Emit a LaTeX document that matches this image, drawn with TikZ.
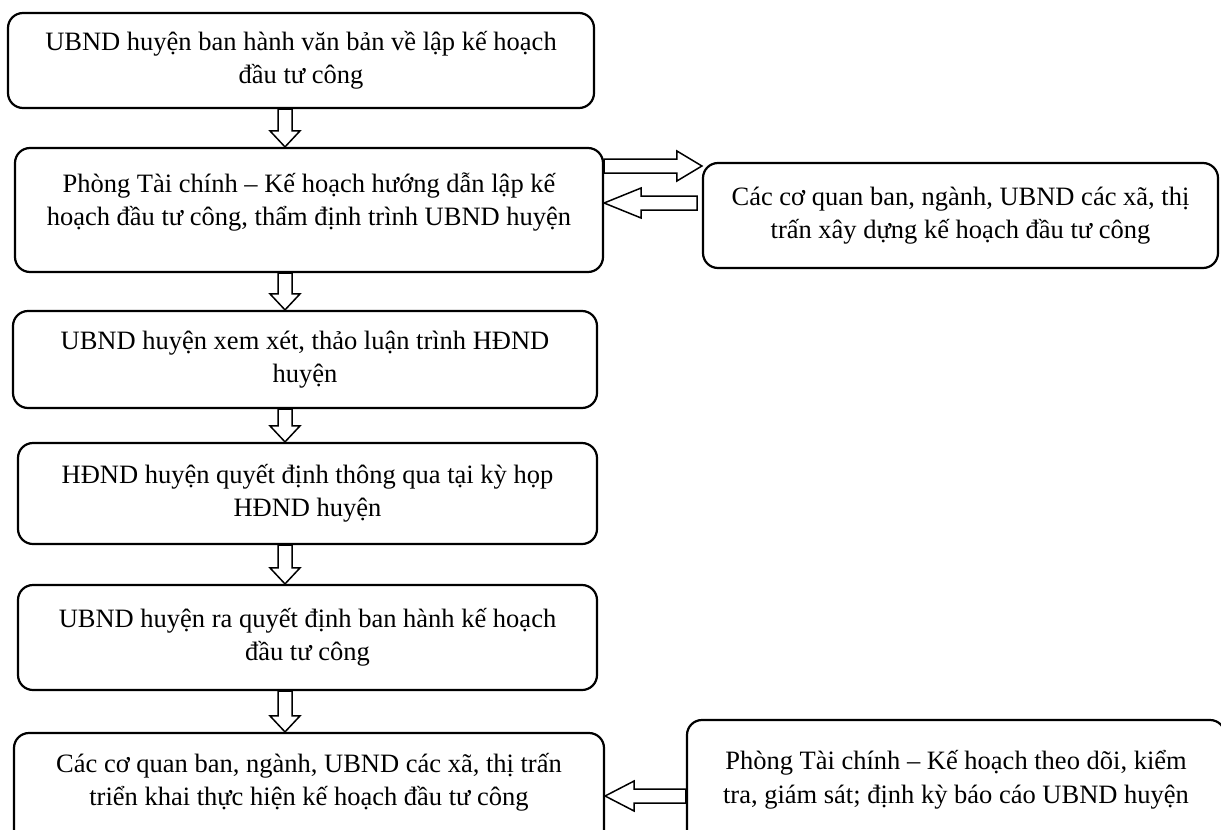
\documentclass[tikz,border=0pt]{standalone}
\usepackage{fontspec}
\setmainfont{Liberation Serif}
\usetikzlibrary{calc}

\tikzset{
box/.style={draw, line width=2.2pt, rounded corners=15pt, align=center, inner sep=0pt,
  font=\fontsize{26.5}{33.5}\selectfont},
arrowline/.style={draw, line width=1.5pt, fill=white, line join=miter}
}

% hollow block arrow from #2 to #3, head length #1 (pt)
\newcommand{\hollowarrow}[3][16]{%
  \draw[arrowline] let \p1=(#2), \p2=(#3),
      \n1={veclen(\x2-\x1,\y2-\y1)}, \n2={atan2(\y2-\y1,\x2-\x1)} in
    [shift={(\p1)}, rotate=\n2]
    (0pt,-7pt) -- ({\n1*1pt-#1pt},-7pt) -- ({\n1*1pt-#1pt},-15pt) -- ({\n1*1pt},0pt)
    -- ({\n1*1pt-#1pt},15pt) -- ({\n1*1pt-#1pt},7pt) -- (0pt,7pt) -- cycle;}

\begin{document}
\begin{tikzpicture}[x=1pt,y=-1pt]
\useasboundingbox (0,0) rectangle (1221,830);
\clip (0,0) rectangle (1221,830);

% Main column
    \node[box, minimum width=586, minimum height=95] (b1) at (301,60.5)
      {UBND huyện ban hành văn bản về lập kế hoạch\\ đầu tư công};
    \node[box, minimum width=588, minimum height=124] (b2) at (309,210)
      {Phòng Tài chính – Kế hoạch hướng dẫn lập kế\\ hoạch đầu tư công, thẩm định trình UBND huyện\\[-12pt]\mbox{}};
    \node[box, minimum width=584, minimum height=97] (b3) at (305,359.5)
      {UBND huyện xem xét, thảo luận trình HĐND\\ huyện};
    \node[box, minimum width=579, minimum height=101] (b4) at (307.5,493.5)
      {HĐND huyện quyết định thông qua tại kỳ họp\\ HĐND huyện};
    \node[box, minimum width=579, minimum height=105] (b5) at (307.5,637.5)
      {UBND huyện ra quyết định ban hành kế hoạch\\ đầu tư công};
    \node[box, minimum width=590, minimum height=117] (b6) at (309,791.5)
      {Các cơ quan ban, ngành, UBND các xã, thị trấn\\ triển khai thực hiện kế hoạch đầu tư công\\[-9pt]\mbox{}};

% Side boxes
    \node[box, minimum width=515, minimum height=105] (r1) at (960.5,215.5)
      {Các cơ quan ban, ngành, UBND các xã, thị\\ trấn xây dựng kế hoạch đầu tư công};
    \node[box, minimum width=538, minimum height=130] (r2) at (956,785)
      {Phòng Tài chính – Kế hoạch theo dõi, kiểm\\ tra, giám sát; định kỳ báo cáo UBND huyện\\[-17pt]\mbox{}};

% Down arrows
    \coordinate (spine) at (285,0);
    \hollowarrow{b1.south -| spine}{b2.north -| spine}
    \hollowarrow{b2.south -| spine}{b3.north -| spine}
    \hollowarrow{b3.south -| spine}{b4.north -| spine}
    \hollowarrow{b4.south -| spine}{b5.north -| spine}
    \hollowarrow{b5.south -| spine}{b6.north -| spine}

% Side arrows
    \coordinate (fwd) at (650,166);
    \coordinate (backtail) at (697,203);
    \coordinate (report) at (650,796);
    \hollowarrow[25]{b2.east |- fwd}{r1.west |- fwd}
    \hollowarrow[37]{backtail}{b2.east |- backtail}
    \hollowarrow[29]{r2.west |- report}{b6.east |- report}
\end{tikzpicture}
\end{document}
